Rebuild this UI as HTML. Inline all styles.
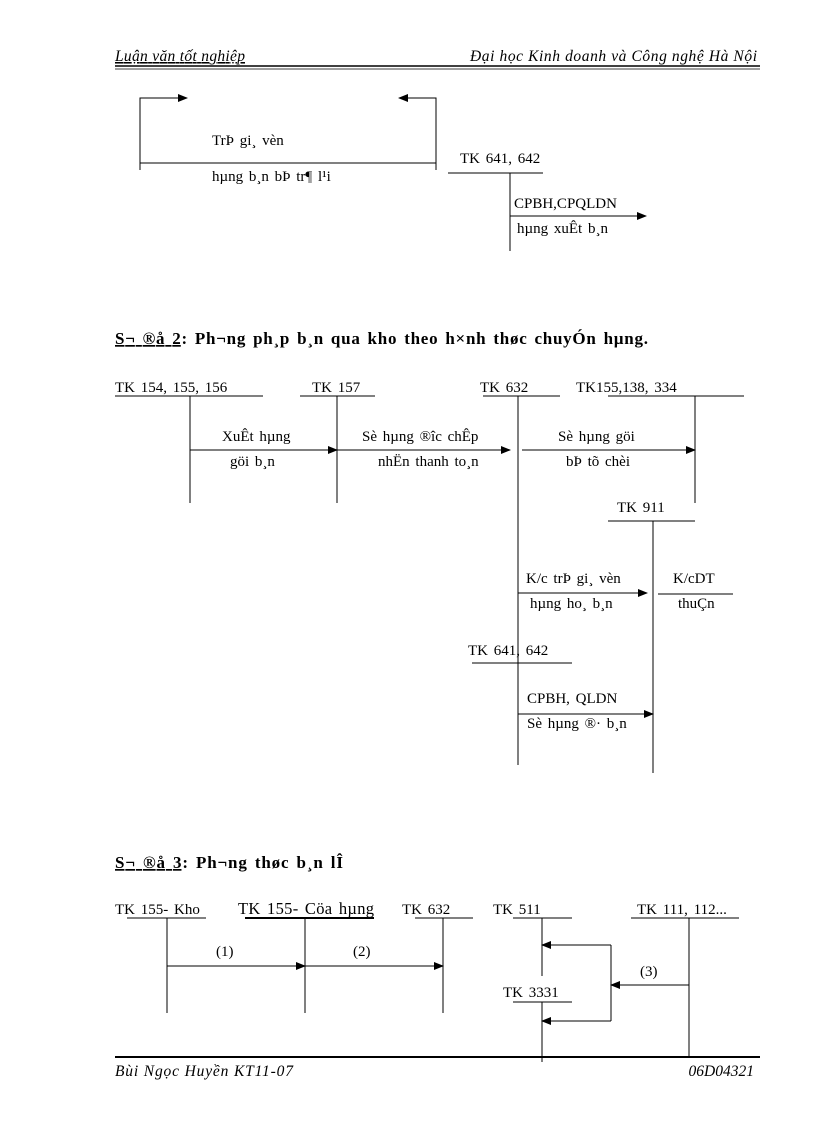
<!DOCTYPE html>
<html><head><meta charset="utf-8"><style>
html,body{margin:0;padding:0;background:#fff}
svg{display:block}
text{font-family:"Liberation Serif",serif;font-size:15px;fill:#000;word-spacing:2px}
.i{font-style:italic;font-size:15.5px;word-spacing:0}
.b{font-weight:bold;font-size:17px}
</style></head><body>
<svg width="816" height="1123" viewBox="0 0 816 1123" xmlns="http://www.w3.org/2000/svg">
<defs><marker id="a" markerWidth="10" markerHeight="8" refX="9" refY="4" orient="auto" markerUnits="userSpaceOnUse"><path d="M0,0 L10,4 L0,8 z" fill="#000"/></marker></defs>
<g stroke="#000" stroke-width="1" fill="none">
<line x1="115" y1="66" x2="760" y2="66" stroke-width="1.5"/><line x1="115" y1="69" x2="760" y2="69" stroke-width="0.8"/>
<polyline points="140,170 140,98 187,98" marker-end="url(#a)"/>
<polyline points="436,170 436,98 399,98" marker-end="url(#a)"/>
<line x1="140" y1="163" x2="436" y2="163"/>
<line x1="448" y1="173" x2="543" y2="173"/>
<line x1="510" y1="173" x2="510" y2="251"/>
<line x1="510" y1="216" x2="646" y2="216" marker-end="url(#a)"/>
<line x1="115" y1="396" x2="263" y2="396"/><line x1="300" y1="396" x2="375" y2="396"/>
<line x1="483" y1="396" x2="560" y2="396"/><line x1="608" y1="396" x2="744" y2="396"/>
<line x1="190" y1="396" x2="190" y2="503"/><line x1="337" y1="396" x2="337" y2="503"/>
<line x1="518" y1="396" x2="518" y2="765"/><line x1="695" y1="396" x2="695" y2="503"/>
<line x1="190" y1="450" x2="337" y2="450" marker-end="url(#a)"/>
<line x1="337" y1="450" x2="510" y2="450" marker-end="url(#a)"/>
<line x1="522" y1="450" x2="695" y2="450" marker-end="url(#a)"/>
<line x1="608" y1="521" x2="695" y2="521"/><line x1="653" y1="521" x2="653" y2="773"/>
<line x1="518" y1="593" x2="647" y2="593" marker-end="url(#a)"/>
<line x1="658" y1="594" x2="733" y2="594"/>
<line x1="472" y1="663" x2="572" y2="663"/>
<line x1="518" y1="714" x2="653" y2="714" marker-end="url(#a)"/>
<line x1="127" y1="918" x2="206" y2="918"/><line x1="245" y1="918" x2="374" y2="918" stroke-width="2"/>
<line x1="415" y1="918" x2="473" y2="918"/><line x1="513" y1="918" x2="572" y2="918"/><line x1="631" y1="918" x2="739" y2="918"/>
<line x1="167" y1="918" x2="167" y2="1013"/><line x1="305" y1="918" x2="305" y2="1013"/><line x1="443" y1="918" x2="443" y2="1013"/>
<line x1="542" y1="918" x2="542" y2="976"/><line x1="689" y1="918" x2="689" y2="1057"/>
<line x1="167" y1="966" x2="305" y2="966" marker-end="url(#a)"/>
<line x1="305" y1="966" x2="443" y2="966" marker-end="url(#a)"/>
<polyline points="611,945 611,1021"/>
<line x1="611" y1="945" x2="542" y2="945" marker-end="url(#a)"/>
<line x1="611" y1="1021" x2="542" y2="1021" marker-end="url(#a)"/>
<line x1="689" y1="985" x2="611" y2="985" marker-end="url(#a)"/>
<line x1="513" y1="1002" x2="572" y2="1002"/><line x1="542" y1="1002" x2="542" y2="1062"/>
<line x1="115" y1="1057" x2="760" y2="1057" stroke-width="2"/>
</g>
<text x="115" y="61" class="i" text-decoration="underline" textLength="130">Luận văn tốt nghiệp</text>
<text x="470" y="61" class="i" textLength="287">Đại học Kinh doanh và Công nghệ Hà Nội</text>
<text x="212" y="145">TrÞ gi¸  vèn</text>
<text x="212" y="181">hµng  b¸n  bÞ tr¶ l¹i</text>
<text x="460" y="163">TK 641, 642</text>
<text x="514" y="208">CPBH,CPQLDN</text>
<text x="517" y="233">hµng  xuÊt  b¸n</text>
<text x="115" y="344" class="b" textLength="533"><tspan text-decoration="underline">S¬ ®å 2</tspan>: Ph¬ng  ph¸p  b¸n  qua kho theo h×nh thøc chuyÓn hµng.</text>
<text x="115" y="392">TK 154, 155, 156</text><text x="312" y="392">TK 157</text>
<text x="480" y="392">TK 632</text><text x="576" y="392">TK155,138, 334</text>
<text x="222" y="441">XuÊt  hµng</text><text x="230" y="466">göi b¸n</text>
<text x="362" y="441">Sè hµng  ®îc  chÊp</text><text x="378" y="466">nhËn  thanh  to¸n</text>
<text x="558" y="441">Sè hµng  göi</text><text x="566" y="466">bÞ tõ chèi</text>
<text x="617" y="512">TK 911</text>
<text x="526" y="583">K/c trÞ gi¸  vèn</text><text x="530" y="608">hµng  ho¸  b¸n</text>
<text x="673" y="583">K/cDT</text><text x="678" y="608">thuÇn</text>
<text x="468" y="655">TK 641, 642</text>
<text x="527" y="703">CPBH, QLDN</text><text x="527" y="728">Sè hµng  ®·  b¸n</text>
<text x="115" y="868" class="b" textLength="228"><tspan text-decoration="underline">S¬ ®å 3</tspan>: Ph¬ng  thøc b¸n lÎ</text>
<text x="115" y="914">TK 155- Kho</text>
<text x="238" y="914" style="font-size:16.5px" textLength="136">TK 155- Cöa hµng</text>
<text x="402" y="914">TK 632</text><text x="493" y="914">TK 511</text><text x="637" y="914">TK 111, 112...</text>
<text x="216" y="956">(1)</text><text x="353" y="956">(2)</text><text x="640" y="976">(3)</text>
<text x="503" y="997">TK 3331</text>
<text x="115" y="1076" class="i" textLength="178">Bùi Ngọc Huyền  KT11-07</text>
<text x="754" y="1076" class="i" text-anchor="end">06D04321</text>
</svg>
</body></html>
